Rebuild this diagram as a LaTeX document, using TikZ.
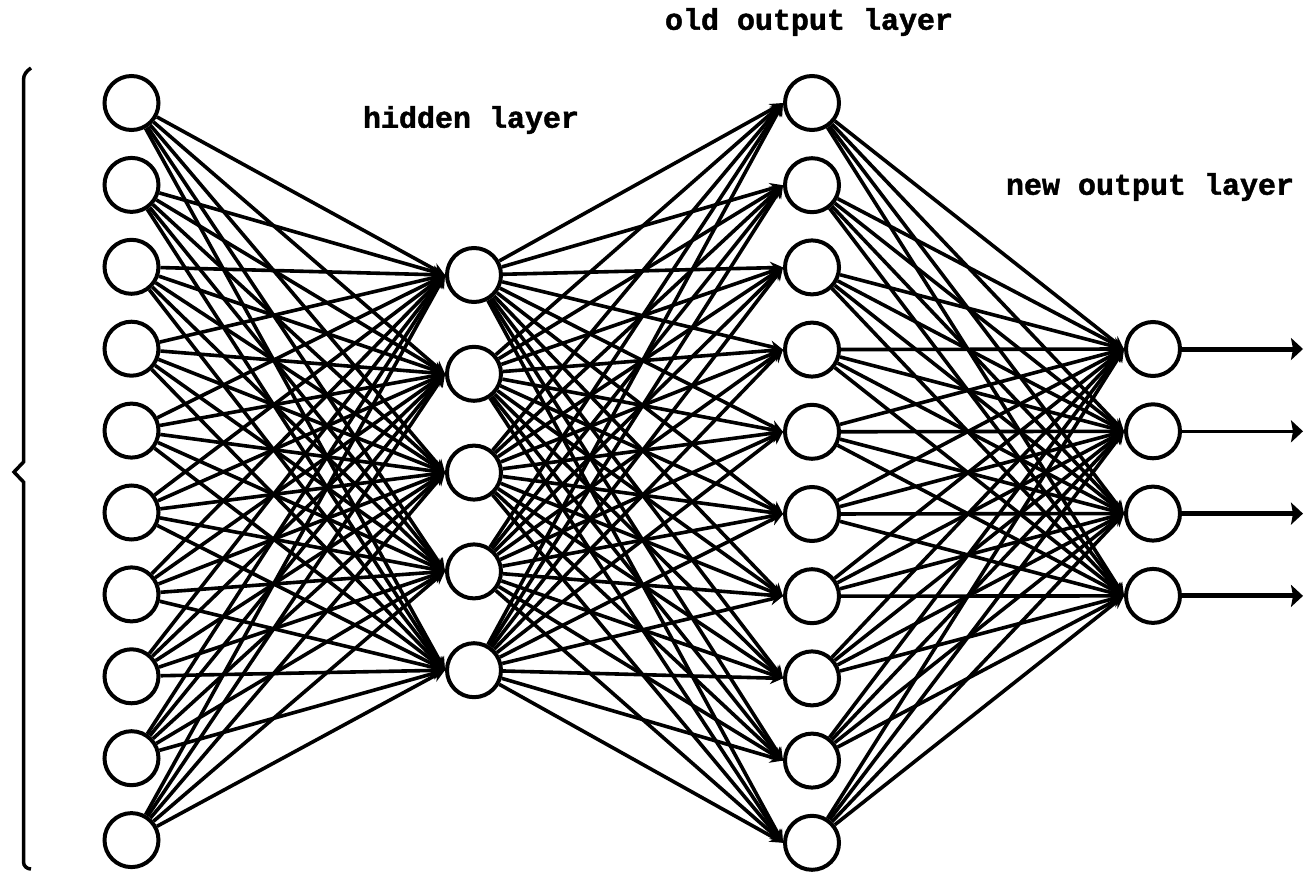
\documentclass[tikz,border=0pt]{standalone}
\usepackage{fontspec}
\newfontfamily\labelfont[BoldFeatures={FakeBold=1.5}]{Liberation Mono}
\usetikzlibrary{arrows.meta}
\begin{document}
\begin{tikzpicture}[x=1pt,y=-1pt,
  neuron/.style={circle,draw,line width=4pt,minimum size=54pt,inner sep=0pt},
  conn/.style={line width=3.6pt,-{Stealth[length=13pt,width=12pt]}},
  outthick/.style={line width=5pt,-{Stealth[length=12pt,width=22pt,inset=2pt]}},
  outthin/.style={line width=2.8pt,-{Stealth[length=12pt,width=22pt,inset=2pt]}},
  lbl/.style={font=\labelfont\bfseries\fontsize{30}{30}\selectfont,inner sep=0pt}]
\useasboundingbox (0,0) rectangle (1316,872);
% layers
\foreach \k in {1,...,10} {
  \node[neuron] (i\k) at (131.5,{103+(\k-1)*81.9}) {};
  \node[neuron] (o\k) at (812,{103+(\k-1)*82.2}) {};
}
\foreach \k in {1,...,5} {
  \node[neuron] (h\k) at (474,{275+(\k-1)*98.8}) {};
}
\foreach \k in {1,...,4} {
  \node[neuron] (n\k) at (1153,{349+(\k-1)*82.3}) {};
  \coordinate (e\k) at (1303,{349+(\k-1)*82.3});
}
% connections
\foreach \a in {1,...,10} {
  \foreach \b in {1,...,5} {
    \draw[conn] (i\a) -- (h\b.west);
    \draw[conn] (h\b) -- (o\a.west);
  }
  \foreach \b in {1,...,4} {
    \draw[conn] (o\a) -- (n\b.west);
  }
}
% output arrows
\draw[outthick] (n1) -- (e1);
\draw[outthin] (n2) -- (e2);
\draw[outthick] (n3) -- (e3);
\draw[outthick] (n4) -- (e4);
% brace
\draw[line width=3.5pt] (31,68) to[out=215,in=90] (23.5,80) -- (23.5,462) -- (14,472) -- (23.5,482) -- (23.5,862) to[out=-90,in=180] (31,869);
% labels
\node[lbl] (lold) at (809,22) {old output layer};
\node[lbl] (lhid) at (471,120) {hidden layer};
\node[lbl] (lnew) at (1150,187) {new output layer};
\end{tikzpicture}
\end{document}
